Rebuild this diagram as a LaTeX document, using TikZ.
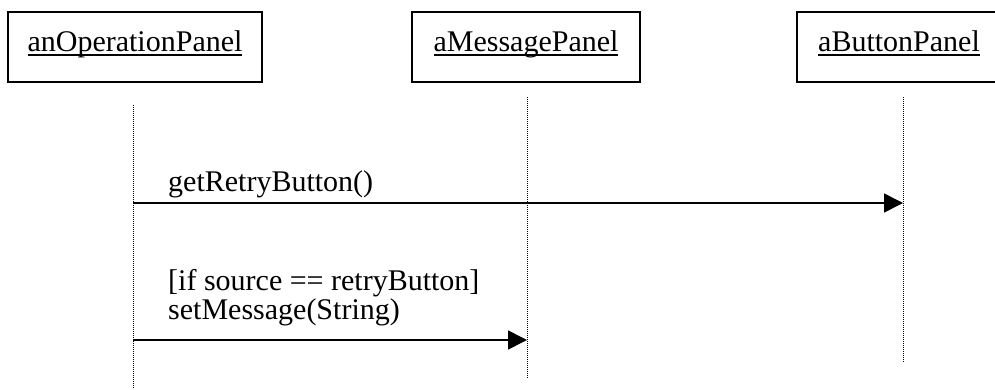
\documentclass[tikz,border=0pt]{standalone}
\usepackage{fontspec}
\setmainfont{Liberation Serif}
\usepackage{tikz}
\usetikzlibrary{arrows.meta}

\newcommand{\objname}[1]{\setbox0\hbox{#1}\rlap{\rule[-4.5pt]{\wd0}{1.6pt}}\box0}

\begin{document}
\begin{tikzpicture}[>={Triangle[length=19pt, width=19pt]}, x=1pt, y=-1pt,
    obj/.style={draw, line width=1.6pt, minimum height=70pt, text height=20pt, text depth=12pt, font=\fontsize{30}{27}\selectfont},
    lifeline/.style={line width=1pt, dash pattern=on 1pt off 1pt},
    msg/.style={->, line width=1.6pt},
    lbl/.style={anchor=base west, inner sep=0pt, align=left, font=\fontsize{30}{27}\selectfont}]
                \useasboundingbox (0,0) rectangle (995,389);
                \clip (0,0) rectangle (995,389);
                % Objetos
                \node[obj, minimum width=254pt] (op) at (135,47) {\objname{anOperationPanel}};
                \node[obj, minimum width=228pt] (msgp) at (526,47) {\objname{aMessagePanel}};
                \node[obj, minimum width=204pt] (btn) at (899,47) {\objname{aButtonPanel}};
                % Lineas de vida
                \coordinate (opA) at (133,105);
                \coordinate (opB) at (133,389);
                \coordinate (msgA) at (527,97);
                \coordinate (msgB) at (527,378);
                \coordinate (btnA) at (903,97);
                \coordinate (btnB) at (903,362);
                \draw[lifeline] (opA) -- (opB);
                \draw[lifeline] (msgA) -- (msgB);
                \draw[lifeline] (btnA) -- (btnB);
                % getRetryButton
                \draw[msg] (opA |- 0,203) -- (btnA |- 0,203);
                \node[lbl] (m1) at (168,191) {getRetryButton()};
                % setMessage
                \draw[msg] (opA |- 0,340) -- (msgA |- 0,340);
                \node[lbl] (m2) at (168,319) {[if source == retryButton]\\setMessage(String)};
\end{tikzpicture}
\end{document}
